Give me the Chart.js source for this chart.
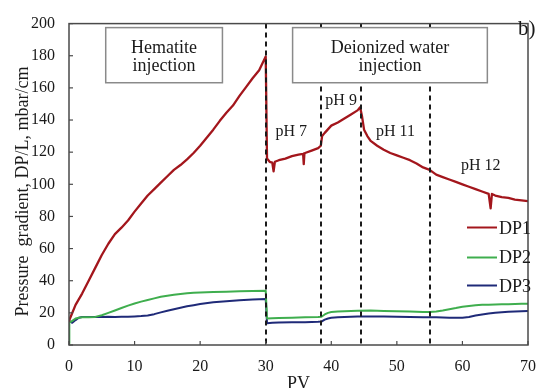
<!DOCTYPE html>
<html><head><meta charset="utf-8">
<script src="https://cdn.jsdelivr.net/npm/chart.js@4.4.1/dist/chart.umd.min.js"></script>
<style>html,body{margin:0;padding:0;background:#fff}#wrap{width:548px;height:388px;position:relative}</style>
</head><body><div id="wrap"><canvas id="c"></canvas></div>
<script>
// ---------- data ----------
const seriesNames = ['DP1', 'DP2', 'DP3'];
const pvDP1 = [0,0.4,1,2,3,4,5,6,7,8,9,10,11,12,13,14,15,16,17,18,19,20,21,22,23,24,25,26,27,28,29,30,
  30.2,30.6,31,31.2,31.4,32,33,34,35,35.7,35.8,35.9,36,37,38,38.4,38.6,39,40,41,42,43,44,44.4,44.7,45,45.5,
  46,47,48,49,50,51,52,53,54,55,56,57,58,59,60,61,62,63,64,64.3,64.5,65,66,67,68,69,70];
const dp1 = [15,19,25,32,40,48,56,63,69,73,77.5,83,88,93,97,101,105,109,112,115.5,119.5,124,129,134,139.5,144.5,149,155,160.5,166,171,179.5,
  116,114,113.5,108,114,115,116,117.5,118.5,119,112.5,119,119.5,121,122.5,124,130,132,136.5,138.5,141,143.5,146,148,142,134,130,
  127,124,121.5,119.5,118,116.5,115,113,110.5,109,106,104.5,103,101.5,100,98.5,97,95.5,94,85,94,93,92,91.5,90.5,90,89.5];
const pvDP = [0,0.05,0.5,1,1.5,2,3,4,5,6,7,8,9,10,11,12,13,14,15,16,17,18,19,20,22,24,26,28,30,
  30.2,31,32,34,36,38,38.5,39,39.5,40,41,42,44,46,48,50,52,54,55,56,57,58,59,60,61,62,63,64,65,66,67,68,69,70];
const dp2 = [1,14,15,16.5,17,17.2,17.3,17.5,18.5,20,21.5,23,24.5,25.8,27,28,29,30,30.7,31.3,31.8,32.2,32.5,32.7,33,33.2,33.4,33.6,33.8,
  16.5,16.6,16.8,17,17.2,17.4,17.6,19,20,20.5,20.8,21,21.3,21.5,21.2,21,20.8,20.6,20.6,20.8,21.5,22.3,23,23.8,24.3,24.7,25,25.1,25.2,25.3,25.4,25.5,25.6,25.6];
const dp3 = [15,15,13.8,15.5,17,17.4,17.5,17.5,17.5,17.6,17.5,17.6,17.6,17.8,18,18.4,19.2,20.3,21.3,22.3,23.2,24.1,24.8,25.5,26.6,27.3,27.9,28.3,28.6,
  13.6,13.8,14,14.1,14.2,14.4,14.6,15.8,16.5,16.9,17.2,17.4,17.7,17.8,17.7,17.6,17.4,17.3,17.2,17.2,17.1,17,17,17,17.4,18.3,19,19.6,20,20.4,20.7,20.9,21,21.1];
const xTickValues = [0,10,20,30,40,50,60,70];
const yTickValues = [0,20,40,60,80,100,120,140,160,180,200];
const phaseBoundaries = [30, 38.5, 44.5, 55];
const phaseLabels = ['pH 7', 'pH 9', 'pH 11', 'pH 12'];
const boxTexts = [['Hematite', 'injection'], ['Deionized water', 'injection']];
const xTitle = 'PV';
const yTitle = 'Pressure  gradient, DP/L, mbar/cm';
const panelTag = 'b)';

// ---------- layout / style (data units for anchors) ----------
const FONT = '"Liberation Serif","Times New Roman",serif';
const phaseLabelAnchors = [[33.9,129.8],[41.5,149.1],[49.8,129.8],[62.8,108.9]];
const boxAnchors = [{x0:5.6,x1:23.4,y0:163.2,y1:197.5,lines:[181.5,170.3]},{x0:34.1,x1:63.8,y0:163.2,y1:197.5,lines:[181.5,170.3]}];
const colors = ['#a3161c', '#3fae4e', '#1f2a78'];

const toXY = (xs, ys) => xs.map((v, i) => ({x: v, y: ys[i]}));

const overlay = {
  id: 'overlay',
  afterDatasetsDraw(chart) {
    const {ctx, chartArea: a, scales: {x, y}} = chart;
    ctx.save();
    // dashed phase boundaries
    ctx.strokeStyle = '#1a1a1a'; ctx.lineWidth = 2; ctx.setLineDash([5, 4]);
    phaseBoundaries.forEach(b => {
      const px = Math.round(x.getPixelForValue(b));
      ctx.beginPath(); ctx.moveTo(px, a.top); ctx.lineTo(px, a.bottom); ctx.stroke();
    });
    ctx.setLineDash([]);
    // frame
    ctx.strokeStyle = '#4a4a4a'; ctx.lineWidth = 1.5;
    ctx.strokeRect(a.left, a.top, a.right - a.left, a.bottom - a.top);
    // inward ticks
    ctx.lineWidth = 1.2;
    x.ticks.forEach(t => { const px = x.getPixelForValue(t.value); ctx.beginPath(); ctx.moveTo(px, a.bottom); ctx.lineTo(px, a.bottom - 4); ctx.stroke(); });
    y.ticks.forEach(t => { const py = y.getPixelForValue(t.value); ctx.beginPath(); ctx.moveTo(a.left, py); ctx.lineTo(a.left + 4, py); ctx.stroke(); });
    // annotation boxes
    boxAnchors.forEach((bx, i) => {
      const l = x.getPixelForValue(bx.x0), r = x.getPixelForValue(bx.x1);
      const t = y.getPixelForValue(bx.y1), btm = y.getPixelForValue(bx.y0);
      ctx.fillStyle = '#fff'; ctx.fillRect(l, t, r - l, btm - t);
      ctx.strokeStyle = '#8a8a8a'; ctx.lineWidth = 1.5; ctx.strokeRect(l, t, r - l, btm - t);
      ctx.fillStyle = '#1a1a1a'; ctx.font = '18px ' + FONT; ctx.textAlign = 'center'; ctx.textBaseline = 'alphabetic';
      boxTexts[i].forEach((s, j) => ctx.fillText(s, (l + r) / 2, y.getPixelForValue(bx.lines[j])));
    });
    // phase labels
    ctx.font = '16px ' + FONT; ctx.fillStyle = '#1a1a1a'; ctx.textAlign = 'center'; ctx.textBaseline = 'alphabetic';
    phaseLabels.forEach((s, i) => ctx.fillText(s, x.getPixelForValue(phaseLabelAnchors[i][0]), y.getPixelForValue(phaseLabelAnchors[i][1])));
    // panel tag
    ctx.font = '21px ' + FONT; ctx.textAlign = 'left';
    ctx.fillText(panelTag, 518, 35);
    // legend
    const legY = [227.5, 257.5, 285.5], txtY = [233.5, 263, 292];
    chart.data.datasets.forEach((ds, i) => {
      ctx.strokeStyle = ds.borderColor; ctx.lineWidth = 2;
      ctx.beginPath(); ctx.moveTo(467, legY[i]); ctx.lineTo(497, legY[i]); ctx.stroke();
      ctx.fillStyle = '#1a1a1a'; ctx.font = '18px ' + FONT; ctx.textAlign = 'left';
      ctx.fillText(ds.label, 499, txtY[i]);
    });
    // axis titles
    ctx.font = '18px ' + FONT; ctx.textAlign = 'center'; ctx.textBaseline = 'alphabetic';
    ctx.fillText(xTitle, (a.left + a.right) / 2, 389);
    ctx.translate(28, 191.5); ctx.rotate(-Math.PI / 2);
    ctx.fillText(yTitle, 0, 0);
    ctx.restore();
  }
};

new Chart(document.getElementById('c'), {
  type: 'line',
  data: {
    datasets: [
      {label: seriesNames[0], data: toXY(pvDP1, dp1), borderColor: colors[0], borderWidth: 2.3},
      {label: seriesNames[1], data: toXY(pvDP, dp2), borderColor: colors[1], borderWidth: 2},
      {label: seriesNames[2], data: toXY(pvDP, dp3), borderColor: colors[2], borderWidth: 2}
    ]
  },
  options: {
    responsive: true, maintainAspectRatio: false, animation: false, devicePixelRatio: 1,
    layout: {padding: {left: 0, top: 19, right: 7, bottom: 0}},
    elements: {point: {radius: 0}, line: {tension: 0, borderJoinStyle: 'round', borderCapStyle: 'round'}},
    plugins: {legend: {display: false}, tooltip: {enabled: false}},
    scales: {
      x: {type: 'linear', min: 0, max: 70,
        grid: {display: false, drawTicks: false}, border: {display: false},
        afterBuildTicks: s => { s.ticks = xTickValues.map(v => ({value: v})); },
        afterFit: s => { s.height = 43; },
        ticks: {padding: 12, color: '#1a1a1a', font: {family: FONT, size: 16}, maxRotation: 0}},
      y: {type: 'linear', min: 0, max: 200,
        grid: {display: false, drawTicks: false}, border: {display: false},
        afterBuildTicks: s => { s.ticks = yTickValues.map(v => ({value: v})); },
        afterFit: s => { s.width = 69; },
        ticks: {padding: 14, color: '#1a1a1a', font: {family: FONT, size: 16}}}
    }
  },
  plugins: [overlay]
});
</script></body></html>
